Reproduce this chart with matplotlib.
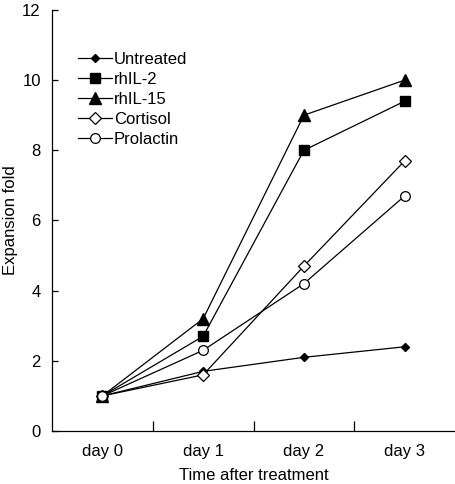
import numpy as np
import matplotlib.pyplot as plt

days = ['day 0', 'day 1', 'day 2', 'day 3']
untreated = [1.0, 1.7, 2.1, 2.4]
rhil2 = [1.0, 2.7, 8.0, 9.4]
rhil15 = [1.0, 3.2, 9.0, 10.0]
cortisol = [1.0, 1.6, 4.7, 7.7]
prolactin = [1.0, 2.3, 4.2, 6.7]

plt.rcParams['font.family'] = ['Liberation Sans', 'DejaVu Sans']
fs = 12

fig = plt.figure(figsize=(4.56, 4.84), dpi=100)
ax = fig.add_axes([0.114, 0.1095, 0.884, 0.87])

x = np.arange(len(days))
lw = 0.9
ax.plot(x, untreated, color='k', lw=lw, marker='D', ms=4.5, mfc='k', label='Untreated')
ax.plot(x, rhil2, color='k', lw=lw, marker='s', ms=7, mfc='k', label='rhIL-2')
ax.plot(x, rhil15, color='k', lw=lw, marker='^', ms=9, mfc='k', label='rhIL-15')
ax.plot(x, cortisol, color='k', lw=lw, marker='D', ms=6, mfc='white', mew=0.9, label='Cortisol')
ax.plot(x, prolactin, color='k', lw=lw, marker='o', ms=7, mfc='white', mew=0.9, label='Prolactin')

ax.set_xlim(-0.5, 3.5)
ax.set_ylim(0, 12)
ax.set_yticks(np.arange(0, 13, 2))
ax.set_xticks(x)
ax.set_xticklabels(days)
ax.set_xticks([0.5, 1.5, 2.5], minor=True)
ax.tick_params(axis='x', which='major', length=0, pad=9, labelsize=fs)
ax.tick_params(axis='x', which='minor', direction='in', length=7, width=0.9)
ax.tick_params(axis='y', direction='in', length=4, width=0.9, labelsize=fs, pad=8)
for s in ['top', 'right']:
    ax.spines[s].set_visible(False)
for s in ['left', 'bottom']:
    ax.spines[s].set_linewidth(0.9)

ax.set_xlabel('Time after treatment', fontsize=fs, labelpad=7)
ax.set_ylabel('Expansion fold', fontsize=fs, labelpad=3)

ax.legend(loc='upper left', bbox_to_anchor=(0.065, 0.9), frameon=False, fontsize=fs,
          handlelength=2.0, handletextpad=0.15, labelspacing=0.3, borderpad=0,
          borderaxespad=0)

fig.savefig('out.png', dpi=100)
